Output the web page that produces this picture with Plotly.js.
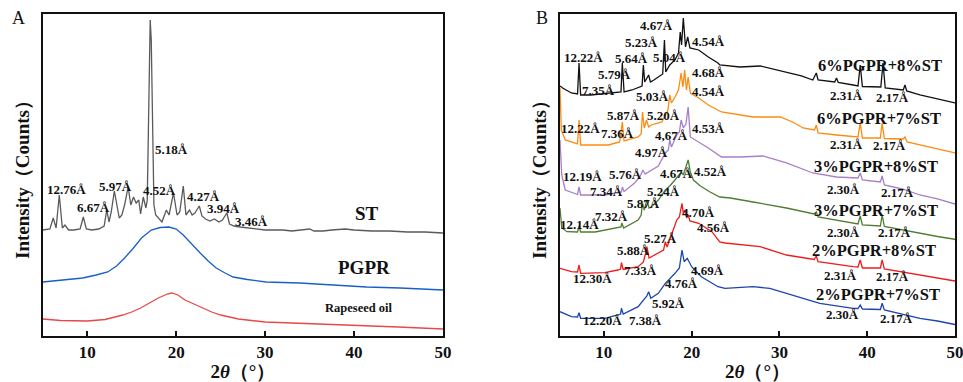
<!DOCTYPE html>
<html>
<head>
<meta charset="utf-8">
<script src="https://cdn.plot.ly/plotly-3.0.1.min.js"></script>
<style>html,body{margin:0;padding:0;background:#fff;}#chart{width:963px;height:382px;}</style>
</head>
<body>
<div id="chart"></div>
<script>
// ---------- Panel A data (2θ in degrees, intensity in arbitrary counts) ----------
const stTheta = [5.0,5.8,6.18,6.5,6.86,7.2,7.5,7.9,8.5,9.2,9.56,9.9,10.5,11.3,11.9,12.2,12.45,12.7,13.05,13.3,13.6,13.9,14.2,14.6,14.9,15.2,15.5,15.8,16.0,16.3,16.6,16.75,16.85,16.98,17.08,17.2,17.38,17.5,17.7,18.0,18.4,18.9,19.2,19.7,20.1,20.4,20.8,21.1,21.5,21.8,22.1,22.6,22.9,23.3,23.8,24.3,24.8,25.2,25.7,26.0,26.5,27.2,28.0,29.0,30.0,31.0,32.0,33.0,34.0,35.0,35.5,36.5,37.5,39.0,40.0,42.0,44.0,46.0,48.0,50.0];
const stI = [106,107,118,108,141,108,111,106,106,107,119,107,106,107,110,126,114,124,145,131,118,121,131,149,131,139,133,136,122,139,128,136,206,296,316,296,206,131,121,118,114,126,121,143,121,124,150,121,126,121,123,130,120,117,115,117,114,116,123,112,110,109,108,107,106,106,106,105,106,107,105,105,106,107,106,105,105,104,104,103];

const pgprTheta = [5,7,9.5,11,12.3,13.3,14.2,15.2,16.1,17.2,18.2,19.2,20.0,20.8,21.7,22.7,23.6,24.5,25.5,26.4,28,30.1,33.9,37.6,41.4,45.2,50];
const pgprI = [54,56,58,61,64,70,78,88,98,106,108.5,109,107,101,92,83,75,68,63,59,56.5,54,53,51,49,48,46];

const oilTheta = [5,7,10,12,14,15,16,17,18,19,19.5,20.2,21,22,23,24,25,27,30,35,40,45,50];
const oilI = [17,15.5,15,16.5,21,24,28,33,38,42,43,41,36,32,28,24,21,17,14,12.5,11,9,7];

// ---------- Panel B data ----------
const b1Theta = [5.0,5.3,6.3,7.0,7.17,7.35,8.5,9.9,11.5,11.95,12.1,12.3,13.2,13.9,14.35,14.5,14.65,15.1,15.3,15.7,16.2,16.7,16.9,17.05,17.5,18.1,18.5,18.7,18.85,19.05,19.3,19.55,19.8,20.8,21.9,23.0,23.2,25.5,27.8,30.8,32.5,33.8,34.2,34.4,36.3,36.5,36.7,38.4,38.95,39.2,39.45,41.55,41.8,42.05,44.1,44.3,44.5,46.0,48.0,49.8,50.0];
const b1I = [250,248,243,242,273,241,241,242,243,244,273,244,246,248,250,271,254,261,254,256,259,262,296,264,271,276,283,304,291,318,289,299,288,286,279,273,271,269,270,264,260,256,263,256,254,258,253.5,251,250,271,249.5,249,273,248,246,251,245,241,237,233,233];

const b2Theta = [5.0,5.15,5.6,6.7,7.0,7.17,7.35,9.0,10.5,11.8,12.1,12.3,13.9,14.25,14.4,14.6,14.85,15.1,15.4,16.6,17.3,17.5,17.7,18.1,18.5,18.8,19.0,19.2,19.4,19.6,19.85,20.8,21.9,23.4,25.0,27.0,30.1,31.5,32.7,34.0,34.2,34.4,36.5,38.4,38.95,39.2,39.45,41.5,41.7,41.95,44.1,44.3,44.55,46.0,48.0,49.8,50.0];
const b2I = [248,206,196,193,192,216,191,191,191,194,214,195,199,202,224,208,216,209,211,214,226,241,233,239,246,263,249,266,246,259,243,238,231,224,222,219,219,214,208,206,211,203,201,200,199,213,198,198,213,197.5,197,199,194,191,187,183,183];

const b3Theta = [5.0,5.2,5.6,6.7,7.0,7.17,7.35,10.1,12.0,12.1,12.3,13.5,14.1,14.3,14.45,14.7,15.4,16.2,17.0,17.35,17.5,17.7,18.3,18.6,18.8,19.05,19.35,19.6,19.85,20.8,21.9,23.4,25.5,28.1,30.8,33.8,36.5,38.95,39.2,39.45,41.5,41.7,41.95,44.0,46.0,48.0,49.8,50.0];
const b3I = [196,161,146,142,141.5,149,141,141,144,149,144.5,153,159,163,166,162,166,170,183,186,196,189,201,204,216,208,212,229,199,194,188,179,179,180,173,163,159,158,163,156,154,160,151,147,141,137,133,132];

const b4Theta = [5.0,5.2,5.8,7.0,7.17,7.35,9.0,11.3,11.95,12.05,12.25,13.9,14.25,14.4,14.6,14.9,15.15,15.4,16.2,17.0,17.5,18.1,18.6,18.8,19.05,19.3,19.6,19.85,20.2,21.0,22.1,23.2,24.4,27.0,30.8,33.95,34.2,34.4,38.4,38.95,39.2,39.45,41.5,41.7,41.95,44.0,46.0,48.0,49.8,50.0];
const b4I = [128,108,104.3,104,110,104,104,108,109,113,108,116,121,133,126,136,128,129,136,146,150,156,161,164,161,169,176,164,156,150,144,139,138,134,128,122,124,119,113,112,120,111,110,121,109.5,106,103,99.5,97,96.5];

const b5Theta = [5.0,6.3,7.0,7.17,7.35,10.1,11.6,11.9,12.0,12.2,13.9,14.5,14.7,14.9,15.15,16.2,16.8,17.0,17.2,17.7,18.3,18.6,18.9,19.05,19.25,19.45,19.6,19.8,20.8,22.3,23.2,23.8,27.8,30.8,33.95,34.2,34.4,38.4,38.95,39.2,39.45,41.5,41.7,41.95,44.0,46.0,48.0,49.8,50.0];
const b5I = [67.7,64.3,64,71,62.7,63.3,66,67,73.3,66.5,69.3,74,81,89.3,78,82.7,86,94.3,89,101,116,119,132.7,122.7,126,118,121,115,112.7,104.3,94,93,89.3,81,76.5,80,74.3,69.3,69,76,68,68,76,67,64,61,58,55.3,55];

const b6Theta = [5.0,6.3,7.0,7.17,7.35,10.1,11.6,11.9,12.0,12.2,13.9,14.7,14.9,15.1,15.35,16.2,17.0,18.1,18.6,18.9,19.15,19.5,20.0,21.1,23.0,23.8,27.0,28.9,32.7,34.6,38.4,38.95,39.2,39.45,41.5,41.7,41.95,44.0,46.0,48.0,49.8,50.0];
const b6I = [24.3,19.3,19,23.3,17.7,17.7,21,22,27.7,22,29.3,37.7,40,44.3,37.7,42.7,52.7,62.7,68,86,74.3,77.7,69.3,59.3,49.3,47.7,49.3,47.7,37.7,32.7,27.7,27.5,31,27,26.5,32.7,26,22,17.7,15,12,11.5];

// ---------- Labels ----------
const aPeakText  = ["5.18Å","12.76Å","6.67Å","5.97Å","4.52Å","4.27Å","3.94Å","3.46Å"];
const aPeakTheta = [19.42,7.69,10.73,13.18,18.18,23.05,25.3,28.48];
const aPeakI     = [186,146,129,149,145,139,128,115];
const aNames     = ["ST","PGPR","Rapeseed oil"];
const aNameTheta = [41.41,41.13,40.57];
const aNameI     = [123,69,28];
const aNameSize  = [19,19,12.5];

const bPeakText  = ["4.67Å","4.54Å","5.23Å","12.22Å","5.64Å","5.04Å","5.79Å","7.35Å",
                    "4.68Å","5.03Å","4.54Å","5.87Å","5.20Å","12.22Å","7.36Å",
                    "4,67Å","4.53Å","4.97Å","12.19Å","5.76Å",
                    "4.67Å","4.52Å","7.34Å","5.24Å","5.87Å","7.32Å","12.14Å",
                    "4.70Å","4.56Å","5.27Å","5.88Å","12.30Å","7.33Å",
                    "4.69Å","4.76Å","5.92Å","12.20Å","7.38Å",
                    "2.31Å","2.17Å","2.31Å","2.17Å","2.30Å","2.17Å","2.30Å","2.17Å","2.31Å","2.17Å","2.30Å","2.17Å"];
const bPeakTheta = [16.05,21.92,14.34,7.68,13.2,17.42,11.2,9.39,
                    21.92,15.54,21.92,12.29,16.74,7.34,11.5,
                    17.71,21.92,15.43,7.56,12.46,
                    18.33,22.09,10.3,16.74,14.46,10.87,7.28,
                    20.78,22.49,16.4,13.43,8.7,14.12,
                    21.81,18.85,17.36,9.79,14.69,
                    37.65,42.83,37.65,42.49,37.25,43.4,37.25,43.12,36.97,42.83,37.14,43.29];
const bPeakI     = [310,294,293,278,277,278,261,245,
                    263,239,244,220,220,207,202,
                    200,207,183,159,161,
                    162,164,144,144,133,120,112,
                    124,109,98,86,58,66,
                    66,53,33,16,16,
                    240,238,191,190,146,143,104,104,61,60,22,18];
const bNames     = ["6%PGPR+8%ST","6%PGPR+7%ST","3%PGPR+8%ST","3%PGPR+7%ST","2%PGPR+8%ST","2%PGPR+7%ST"];
const bNameTheta = [41.47,41.3,40.95,40.95,40.73,41.18];
const bNameI     = [270,217,169,126,86,42];

const tickVals = [10,20,30,40,50];

// ---------- Build ----------
const SERIF = "Liberation Serif, Times New Roman, serif";
function ln(x, y, color, xa, ya) {
  return {x: x, y: y, type: "scatter", mode: "lines", xaxis: xa, yaxis: ya,
          line: {color: color, width: 1.3}, hoverinfo: "skip", showlegend: false};
}
const traces = [
  ln(stTheta, stI, "#5a5a5a", "x", "y"),
  ln(pgprTheta, pgprI, "#1a5fc8", "x", "y"),
  ln(oilTheta, oilI, "#e84848", "x", "y"),
  ln(b1Theta, b1I, "#111111", "x2", "y2"),
  ln(b2Theta, b2I, "#ff8a10", "x2", "y2"),
  ln(b3Theta, b3I, "#a67fc8", "x2", "y2"),
  ln(b4Theta, b4I, "#4f7d32", "x2", "y2"),
  ln(b5Theta, b5I, "#ee1c1c", "x2", "y2"),
  ln(b6Theta, b6I, "#1f44b0", "x2", "y2")
];

const ann = [];
function lab(text, x, y, xr, yr, size) {
  ann.push({text: text, x: x, y: y, xref: xr, yref: yr, showarrow: false,
            xanchor: "center", yanchor: "middle",
            font: {family: SERIF, size: size, color: "#111", weight: 700}});
}
aPeakText.forEach((t, i) => lab(t, aPeakTheta[i], aPeakI[i], "x", "y", 13));
aNames.forEach((t, i) => lab(t, aNameTheta[i], aNameI[i], "x", "y", aNameSize[i]));
bPeakText.forEach((t, i) => lab(t, bPeakTheta[i], bPeakI[i], "x2", "y2", 13));
bNames.forEach((t, i) => lab(t, bNameTheta[i], bNameI[i], "x2", "y2", 16.5));
ann.push({text: "A", x: 0.0192, y: 0.954, xref: "paper", yref: "paper", showarrow: false,
          xanchor: "center", yanchor: "middle", font: {family: SERIF, size: 18, color: "#111"}});
ann.push({text: "B", x: 0.5633, y: 0.954, xref: "paper", yref: "paper", showarrow: false,
          xanchor: "center", yanchor: "middle", font: {family: SERIF, size: 18, color: "#111"}});

function xax(dom, anchor) {
  return {domain: dom, anchor: anchor, range: [5, 50], tickvals: tickVals, ticks: "inside",
          ticklen: 5, tickwidth: 2, tickcolor: "#111", showline: true, mirror: true,
          linewidth: 2, linecolor: "#111", showgrid: false, zeroline: false,
          ticklabeloverflow: "allow",
          tickfont: {family: SERIF, size: 17, color: "#111", weight: 700},
          title: {text: "2<i>θ</i>（°）", font: {family: SERIF, size: 19, color: "#111", weight: 700}, standoff: 1}};
}
function yax(dom, anchor) {
  return {domain: dom, anchor: anchor, range: [0, 322], showticklabels: false, ticks: "",
          showline: true, mirror: true, linewidth: 2, linecolor: "#111",
          showgrid: false, zeroline: false,
          title: {text: "Intensity（Counts）", font: {family: SERIF, size: 19, color: "#111", weight: 700}, standoff: 6}};
}
const yDom = [0.1204, 0.9634];
const layout = {
  width: 963, height: 382,
  margin: {l: 0, r: 0, t: 0, b: 0},
  paper_bgcolor: "#fff", plot_bgcolor: "#fff",
  showlegend: false,
  xaxis: xax([0.0444, 0.4600], "y"),
  yaxis: yax(yDom, "x"),
  xaxis2: xax([0.5815, 0.9917], "y2"),
  yaxis2: yax(yDom, "x2"),
  annotations: ann
};
Plotly.newPlot("chart", traces, layout, {staticPlot: true, displayModeBar: false});
</script>
</body>
</html>
